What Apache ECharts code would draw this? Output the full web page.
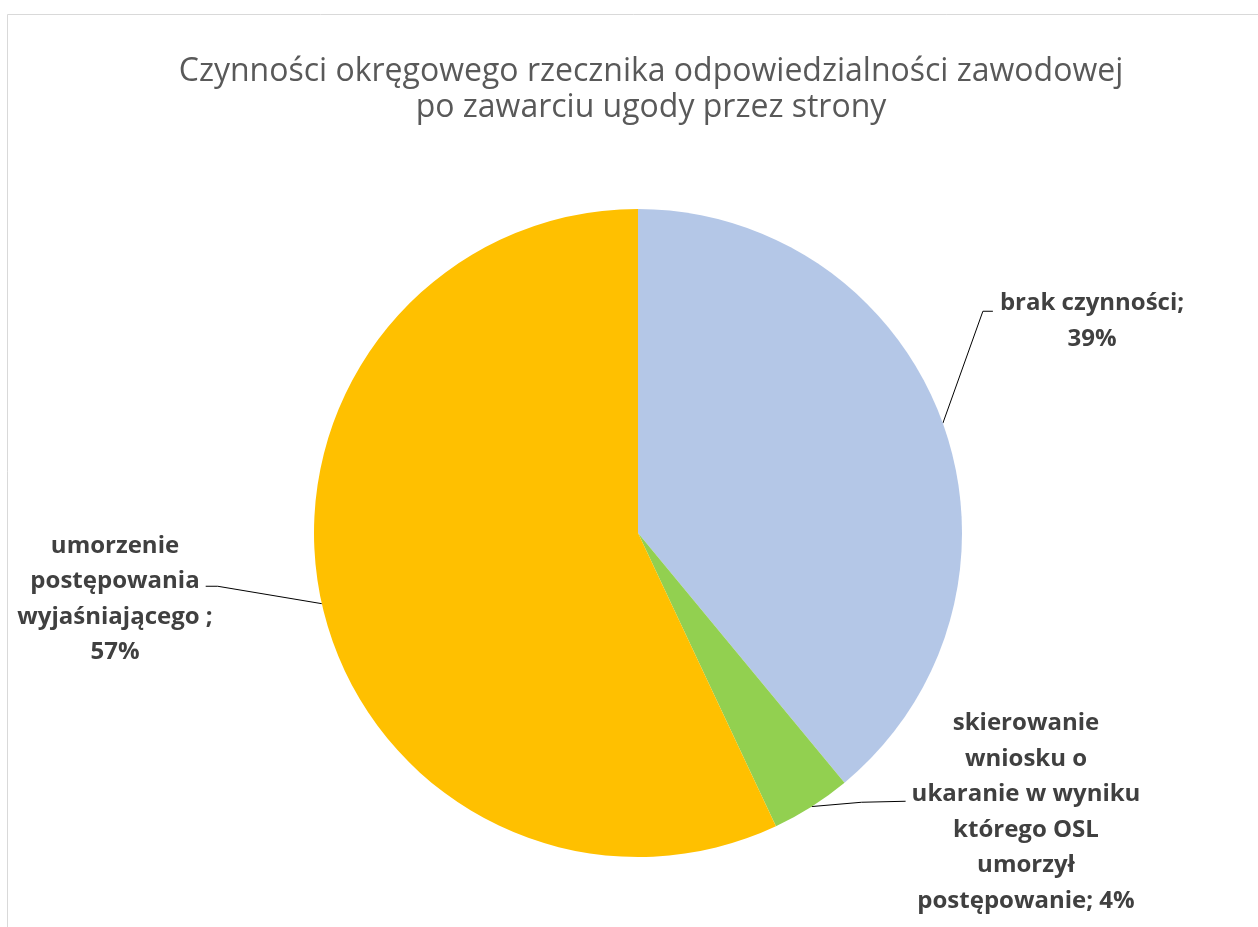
<!DOCTYPE html>
<html>
<head>
<meta charset="utf-8">
<script src="https://cdn.jsdelivr.net/npm/echarts@6/dist/echarts.min.js"></script>
<style>
  html, body { margin: 0; padding: 0; background: #ffffff; }
  #chart { width: 1258px; height: 927px; }
</style>
</head>
<body>
<div id="chart"></div>
<script>
// Chart data
const titleText = 'Czynności okręgowego rzecznika odpowiedzialności zawodowej\npo zawarciu ugody przez strony';
const categories = [
  'brak czynności',
  'skierowanie\nwniosku o\nukaranie w wyniku\nktórego OSL\numorzył\npostępowanie',
  'umorzenie\npostępowania\nwyjaśniającego '
];
const shares = [39, 4, 57];            // percent
const labelJoiners = ['\n', ' ', '\n']; // break between name and value
const colors = ['#B4C7E7', '#92D050', '#FFC000'];

// label anchor placement per slice (centre of the text block)
const labelAnchors = [
  { x: 1092, y: 321 },
  { x: 1026, y: 812 },
  { x: 115, y: 599 }
];
const LINE_H = 35.5;

const chart = echarts.init(document.getElementById('chart'), null, { renderer: 'canvas' });

// leader line: pie edge -> elbow -> end next to the text block
function leaderPoints(i, start, rect) {
  const a = labelAnchors[i];
  const left = a.x - rect.width / 2;
  const right = a.x + rect.width / 2;
  const top = a.y - rect.height / 2;
  if (i === 0) {
    const y = top + LINE_H * 0.5 + 8;
    return [start, [left - 17, y], [left - 7, y]];
  }
  if (i === 1) {
    const y = top + LINE_H * 2.5 + 7;
    return [start, [(start[0] + left) / 2, y + 1], [left - 6, y]];
  }
  const y = top + LINE_H * 1.5 + 5;
  return [start, [right + 5, y], [right - 7, y]];
}

const option = {
  backgroundColor: '#ffffff',
  animation: false,
  title: {
    text: titleText,
    left: 646,
    top: 49,
    textAlign: 'center',
    textStyle: {
      fontFamily: 'Open Sans',
      fontWeight: 'normal',
      fontSize: 32,
      lineHeight: 36,
      color: '#595959'
    }
  },
  graphic: [{
    type: 'rect',
    shape: { x: 7.5, y: 14.5, width: 1400, height: 1000 },
    style: { fill: 'none', stroke: '#d9d9d9', lineWidth: 1 },
    silent: true,
    z: -10
  }],
  series: [{
    type: 'pie',
    center: [638, 533],
    radius: [0, 324],
    startAngle: 90,
    clockwise: true,
    avoidLabelOverlap: false,
    itemStyle: { borderWidth: 0 },
    data: categories.map((name, i) => ({
      name: name,
      value: shares[i],
      itemStyle: { color: colors[i] }
    })),
    label: {
      show: true,
      position: 'outside',
      formatter: p => p.name + ';' + labelJoiners[p.dataIndex] + p.value + '%',
      fontFamily: 'Open Sans',
      fontWeight: 'bold',
      fontSize: 24,
      lineHeight: LINE_H,
      color: '#404040',
      align: 'center'
    },
    labelLine: {
      show: true,
      lineStyle: { color: '#000000', width: 1 }
    },
    labelLayout: params => {
      const i = params.dataIndex;
      const a = labelAnchors[i];
      const out = { x: a.x, y: a.y, align: 'center', verticalAlign: 'middle' };
      if (params.labelLinePoints && params.labelLinePoints.length) {
        out.labelLinePoints = leaderPoints(i, params.labelLinePoints[0], params.labelRect);
      }
      return out;
    }
  }]
};

chart.setOption(option);
</script>
</body>
</html>
